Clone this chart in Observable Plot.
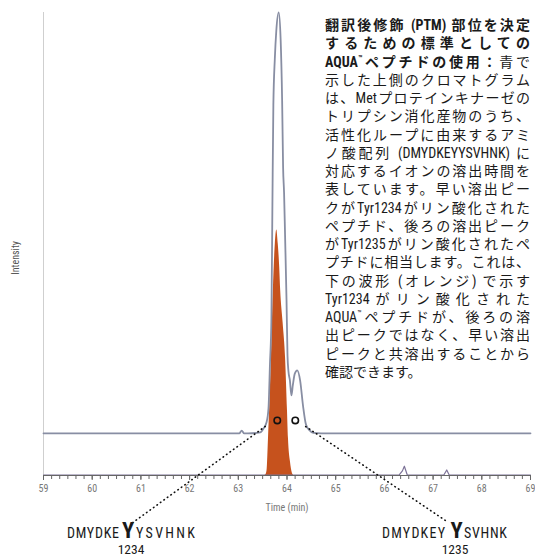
<!DOCTYPE html>
<html lang="ja">
<head>
<meta charset="utf-8">
<script src="https://cdn.jsdelivr.net/npm/d3@7"></script>
<script src="https://cdn.jsdelivr.net/npm/@observablehq/plot@0.6"></script>
<style>
  html, body { margin: 0; padding: 0; background: #fff; }
  #wrap { position: relative; width: 535px; height: 557px; overflow: hidden; }
  #wrap svg { position: absolute; left: 0; top: 0; }
  #note {
    position: absolute; left: 325px; top: 16px; width: 205px;
    font-family: "Roboto Condensed", "Liberation Sans Narrow", "DejaVu Sans Condensed", Roboto, "Noto Sans CJK JP", sans-serif;
    font-stretch: condensed;
    font-size: 14px; line-height: 18.25px; color: #1a1a1a;
  }
  #note .l { white-space: nowrap; text-align: justify; text-align-last: justify; text-justify: inter-character; }
  #note .last { white-space: nowrap; text-align: left; }
  #note .b, #note b { font-weight: 700; }
  #note .tm { font-size: 8px; vertical-align: 6px; line-height: 0; }
</style>
</head>
<body>
<div id="wrap"><div id="note"></div></div>
<script>
// ---- data ----
const grayTime = [59, 62.9, 63.02, 63.07, 63.12, 63.2, 63.45, 63.52, 63.58, 63.62, 63.65, 63.68, 63.70, 63.72, 63.75, 63.78, 63.83, 63.87, 63.90, 63.92, 63.94, 63.96, 63.99, 64.01, 64.03, 64.06, 64.09, 64.12, 64.16, 64.21, 64.27, 64.33, 64.39, 64.46, 64.54, 64.7, 69];
const grayIntensity = [9.1, 9.1, 9.1, 9.7, 9.1, 9.1, 9.3, 10.2, 11.5, 14.5, 24, 34, 58, 80, 90, 96, 100, 94, 81, 66.5, 61, 52, 38, 26, 22.5, 20.5, 17.3, 19.5, 22, 22.7, 20.5, 15, 11, 9.8, 9.2, 9.1, 9.1];

const orangeTime = [63.54, 63.57, 63.59, 63.62, 63.66, 63.68, 63.72, 63.76, 63.79, 63.82, 63.85, 63.87, 63.92, 63.97, 64.01, 64.03, 64.07, 64.11, 64.14];
const orangeIntensity = [0, 0.2, 1, 8, 19, 25.5, 40, 50, 53, 50, 45, 40, 33, 25.5, 14, 8, 3, 0.5, 0];

const lowerTime = [59, 66.3, 66.37, 66.41, 66.47, 67.22, 67.28, 67.33, 69];
const lowerIntensity = [0.1, 0.1, 1.0, 2.0, 0.1, 0.1, 1.2, 0.1, 0.1];

const majorTicks = [59, 60, 61, 62, 63, 64, 65, 66, 67, 68, 69];
const minorTicks = d3.range(0, 61).map(i => 59 + i / 6);

const markerTime = [63.80, 64.17];
const markerIntensity = [11.9, 11.9];

const leaderFromTime = [60.83, 67.25];
const leaderFromIntensity = [-10.2, -9.7];
const leaderToTime = [63.58, 64.38];
const leaderToIntensity = [10.8, 10.6];

const xLabel = "Time (min)";
const xLabelAt = [64, -6.9];
const yLabel = "Intensity";
const yLabelAt = [59, 47];

const noteLines = [
  '<span class="b">翻訳後修飾 (PTM) 部位を決定</span>',
  '<span class="b">するための標準としての</span>',
  '<b>AQUA<span class="tm">™</span>ペプチドの使用：</b>青で',
  '示した上側のクロマトグラム',
  'は、Metプロテインキナーゼの',
  'トリプシン消化産物のうち、',
  '活性化ループに由来するアミ',
  'ノ酸配列 (DMYDKEYYSVHNK) に',
  '対応するイオンの溶出時間を',
  '表しています。早い溶出ピー',
  'クがTyr1234がリン酸化された',
  'ペプチド、後ろの溶出ピーク',
  'がTyr1235がリン酸化されたペ',
  'プチドに相当します。これは、',
  '下の波形 (オレンジ) で示す',
  'Tyr1234がリン酸化された',
  'AQUA<span class="tm">™</span>ペプチドが、後ろの溶',
  '出ピークではなく、早い溶出',
  'ピークと共溶出することから',
  '確認できます。'
];

// ---- build tables ----
const gray = grayTime.map((t, i) => ({t, v: grayIntensity[i]}));
const orange = orangeTime.map((t, i) => ({t, v: orangeIntensity[i]}));
const lower = lowerTime.map((t, i) => ({t, v: lowerIntensity[i]}));
const markers = markerTime.map((t, i) => ({t, v: markerIntensity[i]}));
const leaders = leaderFromTime.map((t, i) => ({
  x1: t, y1: leaderFromIntensity[i], x2: leaderToTime[i], y2: leaderToIntensity[i]
}));

const narrow = "'Roboto Condensed', 'Liberation Sans Narrow', 'DejaVu Sans Condensed', 'Liberation Sans', Arial, sans-serif";

const chart = Plot.plot({
  width: 535,
  height: 557,
  marginLeft: 43,
  marginRight: 5,
  marginTop: 12,
  marginBottom: 82,
  x: {domain: [59, 69]},
  y: {domain: [0, 100], axis: null},
  style: {fontFamily: narrow, fontSize: "10px", background: "transparent", fontStretch: "condensed"},
  marks: [
    Plot.ruleX([59], {stroke: "#cfcfcf", strokeWidth: 1}),
    Plot.areaY(orange, {x: "t", y: "v", fill: "#c6521d", curve: "monotone-x"}),
    Plot.line(lower, {x: "t", y: "v", stroke: "#7d7398", strokeWidth: 1.2}),
    Plot.ruleY([0], {stroke: "#666", strokeWidth: 1}),
    Plot.axisX({ticks: minorTicks, tickSize: 4, tickFormat: () => "", label: null, stroke: "#666"}),
    Plot.axisX({ticks: majorTicks, tickSize: 5, tickFormat: d => String(d), label: null, stroke: "#666", fill: "#777"}),
    Plot.line(gray, {x: "t", y: "v", stroke: "#888ea3", strokeWidth: 1.8, curve: "monotone-x"}),
    Plot.link(leaders, {x1: "x1", y1: "y1", x2: "x2", y2: "y2", stroke: "#111", strokeWidth: 1.6, strokeDasharray: "0.5,3.8", strokeLinecap: "round"}),
    Plot.dot(markers, {x: "t", y: "v", r: 3.2, stroke: "#111", strokeWidth: 1.6, fill: "none"}),
    Plot.text([xLabel], {x: xLabelAt[0], y: xLabelAt[1], fill: "#777", fontSize: 10}),
    Plot.text([yLabel], {x: yLabelAt[0], y: yLabelAt[1], dx: -28, rotate: -90, fill: "#555", fontSize: 10})
  ]
});

const wrap = document.getElementById("wrap");
wrap.insertBefore(chart, wrap.firstChild);

// peptide labels below the chart
const svg = d3.select(chart);
const pep = svg.append("g")
  .attr("font-family", narrow)
  .attr("font-stretch", "condensed")
  .attr("text-anchor", "start")
  .attr("fill", "#1a1a1a");
function pepLabel(parts, numX, num) {
  parts.forEach(p => {
    const t = pep.append("text").attr("x", p.x).attr("y", 537.5).text(p.s);
    if (p.big) {
      t.attr("text-anchor", "middle").attr("font-size", 22.5).attr("font-weight", 700);
    } else {
      t.attr("text-anchor", "start").attr("font-size", 14).attr("textLength", p.w).attr("lengthAdjust", "spacing");
    }
  });
  pep.append("text").attr("x", numX).attr("y", 553.5).attr("text-anchor", "middle")
    .attr("font-size", 13.5).text(num);
}
pepLabel([{s: "DMYDKE", x: 67, w: 52}, {s: "Y", x: 128, big: true}, {s: "YSVHNK", x: 136, w: 59}], 131, "1234");
pepLabel([{s: "DMYDKEY", x: 382, w: 63}, {s: "Y", x: 456.5, big: true}, {s: "SVHNK", x: 464, w: 43}], 455, "1235");

// note text
const note = document.getElementById("note");
noteLines.forEach((html, i) => {
  const d = document.createElement("div");
  d.className = i === noteLines.length - 1 ? "last" : "l";
  d.innerHTML = html;
  note.appendChild(d);
});
</script>
</body>
</html>
